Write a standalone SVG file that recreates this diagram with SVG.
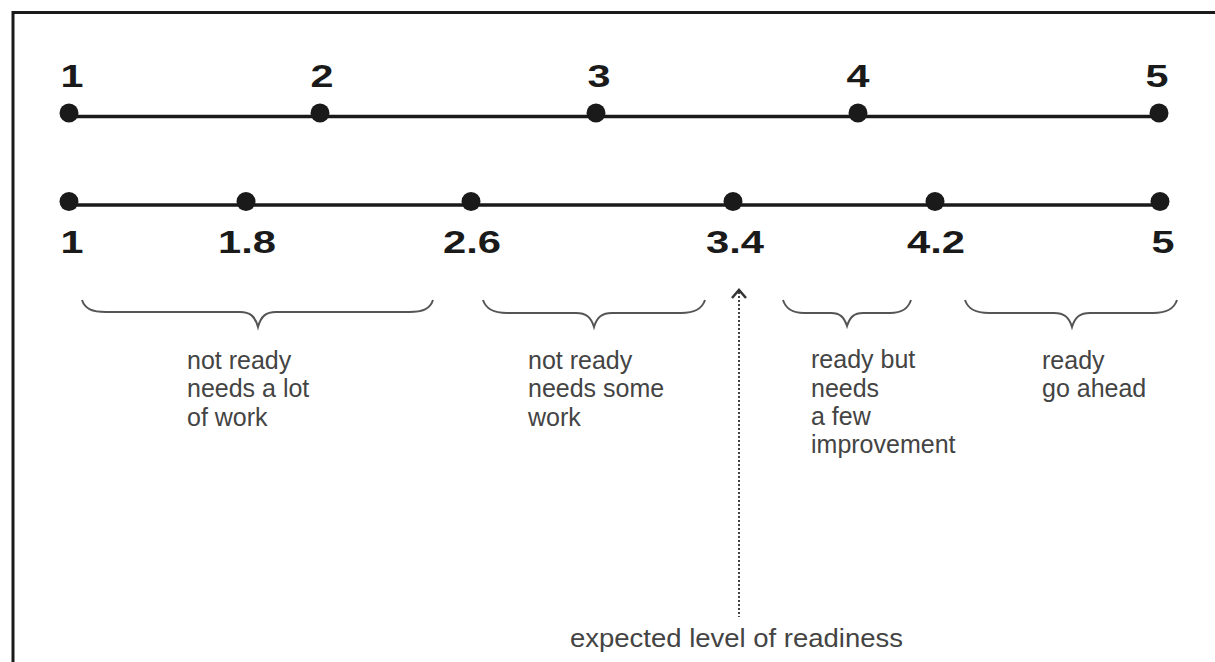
<svg xmlns="http://www.w3.org/2000/svg" width="1215" height="662" viewBox="0 0 1215 662">
<style>
.axis{stroke:#1a1a1a;stroke-width:3.5;fill:none}
.dot{fill:#1a1a1a}
.num{font-family:"Liberation Sans",Arial,sans-serif;font-weight:bold;font-size:31px;fill:#1a1a1a;text-anchor:middle}
.brace{stroke:#555;stroke-width:2;fill:none}
.lbl{font-family:"Liberation Sans",Arial,sans-serif;font-size:25px;fill:#444}
</style>
<rect width="1215" height="662" fill="#fff"/>
<path d="M13 662 V12.5 H1215" stroke="#1a1a1a" stroke-width="3" fill="none"/>
<g id="scale-top">
<line class="axis" x1="69" y1="116.5" x2="1159" y2="116.5"/>
<circle class="dot" cx="69" cy="113" r="9.5"/>
<circle class="dot" cx="320" cy="113" r="9.5"/>
<circle class="dot" cx="596" cy="113" r="9.5"/>
<circle class="dot" cx="858" cy="113" r="9.5"/>
<circle class="dot" cx="1159" cy="113" r="9.5"/>
<text class="num" x="72" y="87" textLength="23" lengthAdjust="spacingAndGlyphs">1</text>
<text class="num" x="322" y="87" textLength="23" lengthAdjust="spacingAndGlyphs">2</text>
<text class="num" x="599" y="87" textLength="23" lengthAdjust="spacingAndGlyphs">3</text>
<text class="num" x="858" y="87" textLength="23" lengthAdjust="spacingAndGlyphs">4</text>
<text class="num" x="1157" y="87" textLength="23" lengthAdjust="spacingAndGlyphs">5</text>
</g>
<g id="scale-bottom">
<line class="axis" x1="69" y1="205" x2="1160" y2="205"/>
<circle class="dot" cx="69" cy="201.5" r="9.5"/>
<circle class="dot" cx="246" cy="201.5" r="9.5"/>
<circle class="dot" cx="471" cy="201.5" r="9.5"/>
<circle class="dot" cx="733" cy="201.5" r="9.5"/>
<circle class="dot" cx="935" cy="201.5" r="9.5"/>
<circle class="dot" cx="1160" cy="201.5" r="9.5"/>
<text class="num" x="72" y="253" textLength="23" lengthAdjust="spacingAndGlyphs">1</text>
<text class="num" x="247" y="253" textLength="58" lengthAdjust="spacingAndGlyphs">1.8</text>
<text class="num" x="472" y="253" textLength="58" lengthAdjust="spacingAndGlyphs">2.6</text>
<text class="num" x="735" y="253" textLength="58" lengthAdjust="spacingAndGlyphs">3.4</text>
<text class="num" x="936" y="253" textLength="58" lengthAdjust="spacingAndGlyphs">4.2</text>
<text class="num" x="1163" y="253" textLength="23" lengthAdjust="spacingAndGlyphs">5</text>
</g>
<g id="range-1">
<path class="brace" d="M82 300 C85 309,92 312,106 312 L240 312 C250 312,255 316,258 327 C261 316,266 312,276 312 L409 312 C423 312,430 309,433 300"/>
<text class="lbl" x="187" y="369">not ready</text>
<text class="lbl" x="187" y="397">needs a lot</text>
<text class="lbl" x="187" y="426">of work</text>
</g>
<g id="range-2">
<path class="brace" d="M483 300 C486 309,493 313,507 313 L576 313 C586 313,591 317,594 327 C597 317,602 313,612 313 L681 313 C695 313,702 309,705 300"/>
<text class="lbl" x="528" y="369">not ready</text>
<text class="lbl" x="528" y="397">needs some</text>
<text class="lbl" x="528" y="426">work</text>
</g>
<g id="range-3">
<path class="brace" d="M783 300 C786 309,792 313,804 313 L831 313 C840 313,844 317,847 326 C850 317,854 313,863 313 L890 313 C902 313,908 309,911 300"/>
<text class="lbl" x="811" y="368">ready but</text>
<text class="lbl" x="811" y="397">needs</text>
<text class="lbl" x="811" y="425">a few</text>
<text class="lbl" x="811" y="453">improvement</text>
</g>
<g id="range-4">
<path class="brace" d="M965 300 C968 309,975 313,989 313 L1054 313 C1064 313,1069 317,1072 327 C1075 317,1080 313,1090 313 L1153 313 C1167 313,1174 309,1177 300"/>
<text class="lbl" x="1042" y="369">ready</text>
<text class="lbl" x="1042" y="397">go ahead</text>
</g>
<g id="connectors">
<line x1="739" y1="292" x2="739" y2="617" stroke="#444" stroke-width="2" stroke-dasharray="2,2"/>
<path d="M732 298 L739 290 L746 298" stroke="#333" stroke-width="2.5" fill="none"/>
</g>
<g id="expected">
<text class="lbl" x="570" y="647" font-size="26" textLength="333" lengthAdjust="spacingAndGlyphs">expected level of readiness</text>
</g>
</svg>
